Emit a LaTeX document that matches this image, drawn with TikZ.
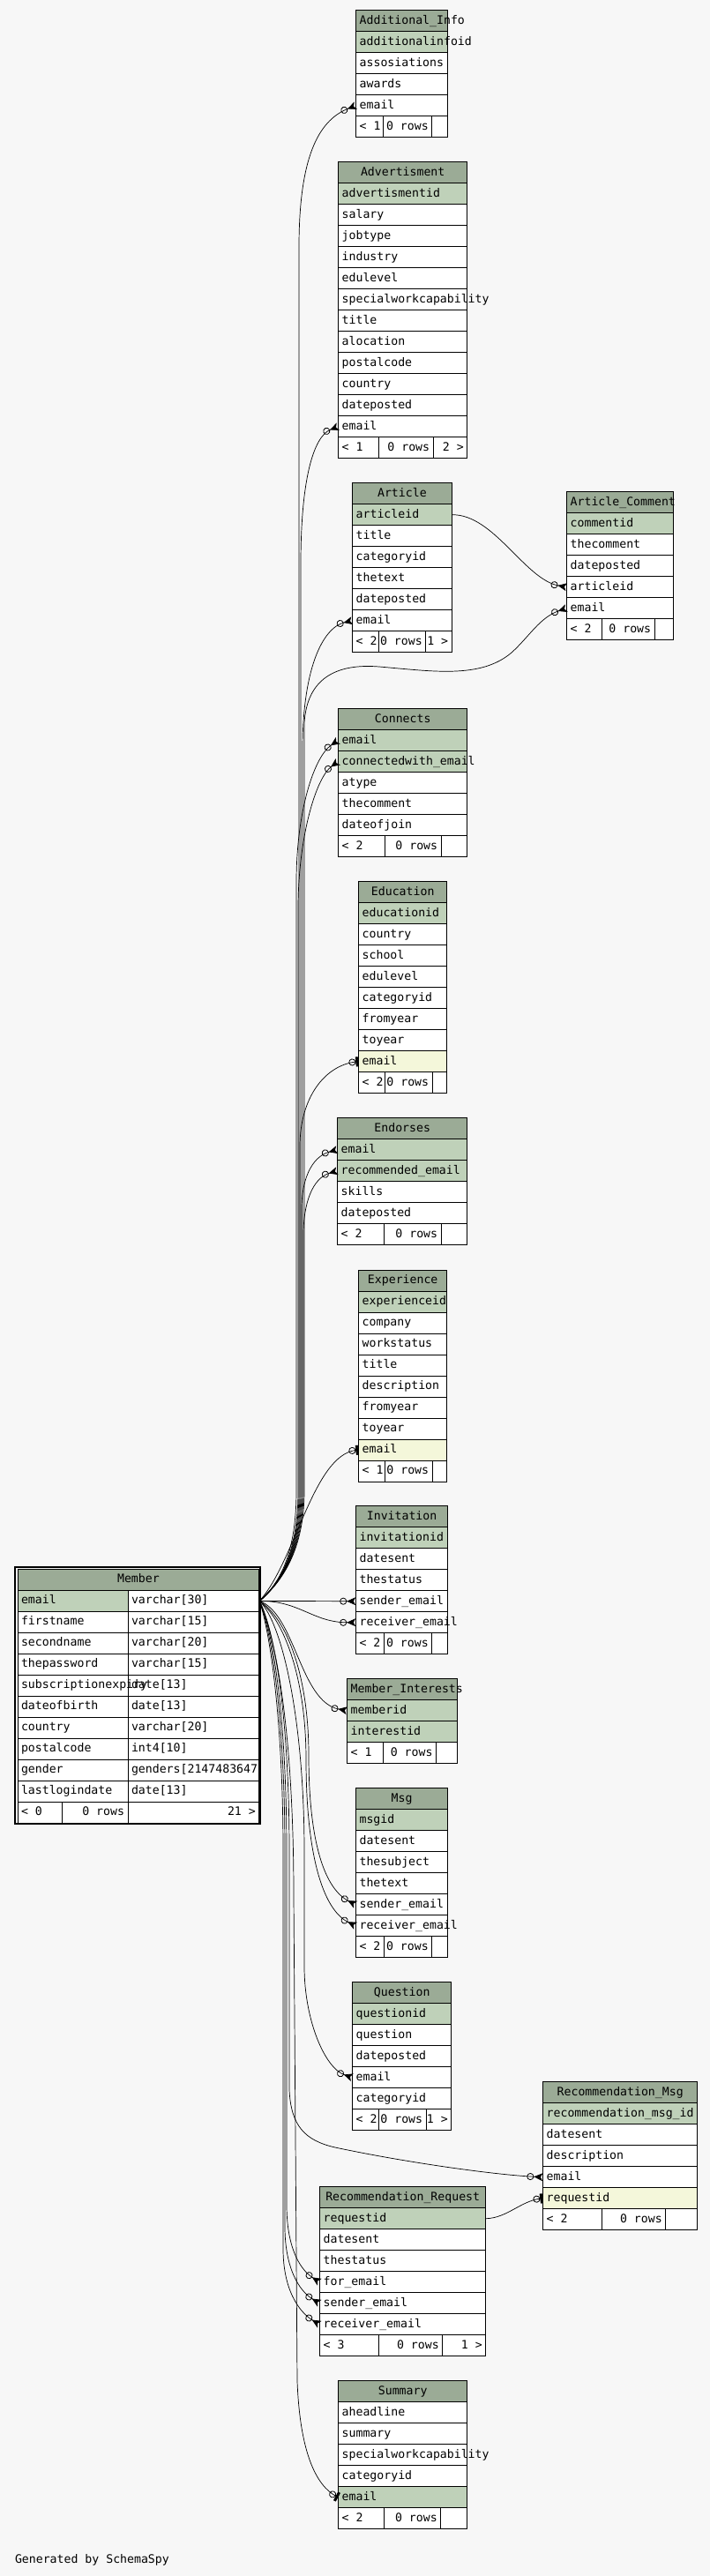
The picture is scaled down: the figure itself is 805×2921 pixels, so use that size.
\documentclass[tikz,border=0pt]{standalone}
\usepackage{fontspec}
\usepackage{tikz}
\usetikzlibrary{arrows.meta}
\newfontfamily\erdfont{DejaVu Sans Mono}
\newcommand{\erdsize}{\erdfont\fontsize{13.2}{15}\selectfont}
\definecolor{pagebg}{HTML}{F7F7F7}
\definecolor{headgreen}{HTML}{9BAB96}
\definecolor{pkgreen}{HTML}{BFD1B9}
\definecolor{idxyellow}{HTML}{F4F7DA}
\tikzset{
  erdcell/.style={draw=black, line width=0.8pt, font=\erdsize, inner xsep=4pt, inner ysep=0pt,
    minimum height=24pt, text height=9.6pt, text depth=2.6pt, anchor=north west},
  erdhead/.style={erdcell, fill=headgreen},
  fkmany/.style={line width=0.7pt, -{Circle[open,length=8pt,width=8pt,line width=0.8pt] Stealth[reversed,length=10pt,width=9pt,inset=2.5pt]}},
  fkone/.style={line width=0.7pt, -{Circle[open,length=8pt,width=8pt,line width=0.8pt] Rectangle[length=3pt,width=11pt]}},
}
% table: [title align]{key}{left}{top}{width}{title}{rows}
\newcommand{\erdtable}[7][c]{%
  \node[erdhead] (#2-title) at (#3,#4) {\makebox[\dimexpr#5pt-8pt\relax][#1]{#6}};
  \foreach \txt/\clr [count=\i] in {#7}
    \node[erdcell, fill=\clr] (#2-\i) at (#3,{#4+24*\i}) {\makebox[\dimexpr#5pt-8pt\relax][l]{\txt}};
}
% footer: {key}{top}{x0}{x1}{x2}{x3}{left}{mid}{right}
\newcommand{\erdfoot}[9]{%
  \node[erdcell, fill=white] (#1-prev) at (#3,#2) {\makebox[\dimexpr#4pt-#3pt-8pt\relax][l]{#7}};
  \node[erdcell, fill=white] (#1-rows) at (#4,#2) {\makebox[\dimexpr#5pt-#4pt-8pt\relax][r]{#8}};
  \node[erdcell, fill=white] (#1-next) at (#5,#2) {\makebox[\dimexpr#6pt-#5pt-8pt\relax][r]{#9}};
}

\begin{document}
\begin{tikzpicture}[x=1pt, y=-1pt]
\fill[pagebg] (0,0) rectangle (805,2921);
\useasboundingbox (0,0) rectangle (805,2921);

% tables right of the trunk
\erdtable[l]{addinfo}{403.3}{11.3}{104}{Additional\_Info}{additionalinfoid/pkgreen, assosiations/white, awards/white, email/white}
\erdfoot{addinfo}{131.3}{403.3}{434.3}{489.3}{507.3}{< 1}{0 rows}{}

\erdtable{advert}{383.3}{183.3}{146}{Advertisment}{advertismentid/pkgreen, salary/white, jobtype/white, industry/white, edulevel/white, specialworkcapability/white, title/white, alocation/white, postalcode/white, country/white, dateposted/white, email/white}
\erdfoot{advert}{495.3}{383.3}{429.3}{490.7}{529.3}{< 1}{0 rows}{2 >}

\erdtable{article}{399.3}{547.3}{112.4}{Article}{articleid/pkgreen, title/white, categoryid/white, thetext/white, dateposted/white, email/white}
\erdfoot{article}{715.3}{399.3}{429.3}{482.3}{511.7}{< 2}{0 rows}{1 >}

\erdtable[l]{artcomment}{642.3}{557.3}{121}{Article\_Comment}{commentid/pkgreen, thecomment/white, dateposted/white, articleid/white, email/white}
\erdfoot{artcomment}{701.3}{642.3}{682.3}{741.7}{763.3}{< 2}{0 rows}{}

\erdtable{connects}{383.3}{803.3}{146}{Connects}{email/pkgreen, connectedwith\_email/pkgreen, atype/white, thecomment/white, dateofjoin/white}
\erdfoot{connects}{947.3}{383.3}{435.7}{499.7}{529.3}{< 2}{0 rows}{}

\erdtable{education}{406.3}{999.3}{100}{Education}{educationid/pkgreen, country/white, school/white, edulevel/white, categoryid/white, fromyear/white, toyear/white, email/idxyellow}
\erdfoot{education}{1215.3}{406.3}{435.7}{489.7}{506.3}{< 2}{0 rows}{}

\erdtable{endorses}{382.3}{1267.3}{147}{Endorses}{email/pkgreen, recommended\_email/pkgreen, skills/white, dateposted/white}
\erdfoot{endorses}{1387.3}{382.3}{434.7}{499.7}{529.3}{< 2}{0 rows}{}

\erdtable{experience}{406.3}{1439.7}{100}{Experience}{experienceid/pkgreen, company/white, workstatus/white, title/white, description/white, fromyear/white, toyear/white, email/idxyellow}
\erdfoot{experience}{1655.7}{406.3}{435.7}{489.7}{506.3}{< 1}{0 rows}{}

\erdtable{invitation}{403.2}{1707.3}{104}{Invitation}{invitationid/pkgreen, datesent/white, thestatus/white, sender\_email/white, receiver\_email/white}
\erdfoot{invitation}{1851.3}{403.2}{434.6}{489.3}{507.2}{< 2}{0 rows}{}

\erdtable[l]{interests}{393.3}{1903.3}{125}{Member\_Interests}{memberid/pkgreen, interestid/pkgreen}
\erdfoot{interests}{1975.3}{393.3}{434.2}{494.1}{518.3}{< 1}{0 rows}{}

\erdtable{msg}{403.2}{2027.3}{104}{Msg}{msgid/pkgreen, datesent/white, thesubject/white, thetext/white, sender\_email/white, receiver\_email/white}
\erdfoot{msg}{2195.3}{403.2}{434.6}{489.3}{507.2}{< 2}{0 rows}{}

\erdtable{question}{399.3}{2247.3}{112}{Question}{questionid/pkgreen, question/white, dateposted/white, email/white, categoryid/white}
\erdfoot{question}{2391.3}{399.3}{429.3}{482.7}{511.3}{< 2}{0 rows}{1 >}

\erdtable{recmsg}{615.3}{2360.3}{175}{Recommendation\_Msg}{recommendation\_msg\_id/pkgreen, datesent/white, description/white, email/white, requestid/idxyellow}
\erdfoot{recmsg}{2504.3}{615.3}{682.3}{754.3}{790.3}{< 2}{0 rows}{}

\erdtable{recreq}{362.3}{2479.3}{188}{Recommendation\_Request}{requestid/pkgreen, datesent/white, thestatus/white, for\_email/white, sender\_email/white, receiver\_email/white}
\erdfoot{recreq}{2647.3}{362.3}{429.3}{501.3}{550.3}{< 3}{0 rows}{1 >}

\erdtable{summary}{383.3}{2699.3}{146}{Summary}{aheadline/white, summary/white, specialworkcapability/white, categoryid/white, email/pkgreen}
\erdfoot{summary}{2843.3}{383.3}{435.4}{499.3}{529.3}{< 2}{0 rows}{}

% Member, two columns
\def\memberrows{email/varchar[30]/pkgreen, firstname/varchar[15]/white, secondname/varchar[20]/white,
  thepassword/varchar[15]/white, subscriptionexpiry/date[13]/white, dateofbirth/date[13]/white,
  country/varchar[20]/white, postalcode/int4[10]/white, gender/genders[2147483647/white, lastlogindate/date[13]/white}
\fill[white] (19.6,1779) rectangle (293.4,2067);
\node[erdhead] (member-title) at (19.6,1779) {\makebox[265.8pt][c]{Member}};
\foreach \col/\typ/\clr [count=\i] in \memberrows
  \node[erdcell, fill=\clr] (member-\i) at (19.6,{1779+24*\i}) {\makebox[117pt][l]{\col}};
\foreach \col/\typ/\clr [count=\i] in \memberrows
  \node[erdcell] (member-\i-type) at (144.6,{1779+24*\i}) {\makebox[140.8pt][l]{\typ}};
\erdfoot{member}{2043}{19.6}{69.6}{144.6}{293.4}{< 0}{0 rows}{21 >}
\draw[line width=2pt] (17.2,1776.7) rectangle (294.6,2068);

% foreign keys to Member.email, going up
\draw[fkmany] (member-1-type.east) .. controls (318,1795) and (339,1760) .. (339,1690) -- (339,280) .. controls (339,170) and (365,135) .. (addinfo-4.west);
\draw[fkmany] (member-1-type.east) .. controls (318,1795) and (341,1760) .. (341,1690) -- (341,640) .. controls (341,545) and (355,495) .. (advert-12.west);
\draw[fkmany] (member-1-type.east) .. controls (318,1795) and (343,1760) .. (343,1690) -- (343,850) .. controls (343,760) and (365,712) .. (article-6.west);
\draw[fkmany] (member-1-type.east) .. controls (318,1795) and (345,1760) .. (345,1690) -- (345,820) .. controls (348,770) and (380,752) .. (430,756) .. controls (490,761) and (545,770) .. (580,740) .. controls (600,722) and (612,700) .. (artcomment-5.west);
\draw[fkmany] (member-1-type.east) .. controls (318,1795) and (336,1760) .. (336,1690) -- (336,1000) .. controls (336,920) and (356,858) .. (connects-1.west);
\draw[fkmany] (member-1-type.east) .. controls (318,1795) and (338,1760) .. (338,1690) -- (338,1030) .. controls (338,950) and (358,882) .. (connects-2.west);
\draw[fkone] (member-1-type.east) .. controls (318,1795) and (340,1760) .. (340,1690) -- (340,1300) .. controls (340,1245) and (368,1208) .. (education-8.west);
\draw[fkmany] (member-1-type.east) .. controls (318,1795) and (342,1760) .. (342,1690) -- (342,1370) .. controls (342,1340) and (352,1312) .. (endorses-1.west);
\draw[fkmany] (member-1-type.east) .. controls (318,1795) and (344,1760) .. (344,1690) -- (344,1400) .. controls (344,1365) and (354,1336) .. (endorses-2.west);
\draw[fkone] (member-1-type.east) .. controls (335,1770) and (355,1650) .. (experience-8.west);
% level and going down
\draw[fkmany] (member-1-type.east) -- (invitation-4.west);
\draw[fkmany] (member-1-type.east) .. controls (340,1815) and (355,1840) .. (invitation-5.west);
\draw[fkmany] (member-1-type.east) .. controls (335,1830) and (340,1930) .. (interests-1.west);
\draw[fkmany] (member-1-type.east) .. controls (325,1835) and (350,1900) .. (350,1990) .. controls (350,2080) and (365,2140) .. (msg-5.west);
\draw[fkmany] (member-1-type.east) .. controls (323,1838) and (347,1905) .. (347,1995) .. controls (347,2100) and (365,2165) .. (msg-6.west);
\draw[fkmany] (member-1-type.east) .. controls (320,1840) and (345,1950) .. (345,2100) -- (345,2230) .. controls (345,2290) and (368,2345) .. (question-4.west);
\draw[fkmany] (member-1-type.east) .. controls (312,1850) and (328,1950) .. (328,2100) -- (328,2370) .. controls (330,2410) and (345,2427) .. (380,2435) .. controls (460,2452) and (560,2466) .. (recmsg-4.west);
\draw[fkmany] (member-1-type.east) .. controls (310,1850) and (325,1950) .. (325,2100) -- (325,2500) .. controls (325,2545) and (338,2572) .. (recreq-4.west);
\draw[fkmany] (member-1-type.east) .. controls (308,1850) and (323,1950) .. (323,2100) -- (323,2525) .. controls (323,2570) and (338,2597) .. (recreq-5.west);
\draw[fkmany] (member-1-type.east) .. controls (306,1850) and (321,1950) .. (321,2100) -- (321,2550) .. controls (321,2595) and (338,2621) .. (recreq-6.west);
\draw[fkone] (member-1-type.east) .. controls (310,1850) and (333,1950) .. (333,2150) -- (337,2700) .. controls (340,2780) and (358,2818) .. (summary-5.west);

% other keys
\draw[fkmany] (article-1.east) .. controls (560,583) and (595,657) .. (artcomment-4.west);
\draw[fkone] (recreq-1.east) .. controls (575,2515) and (590,2496) .. (recmsg-5.west);

\node[font=\erdsize, anchor=base west, inner sep=0pt] (credit) at (16.8,2906.5) {Generated by SchemaSpy};
\end{tikzpicture}
\end{document}
